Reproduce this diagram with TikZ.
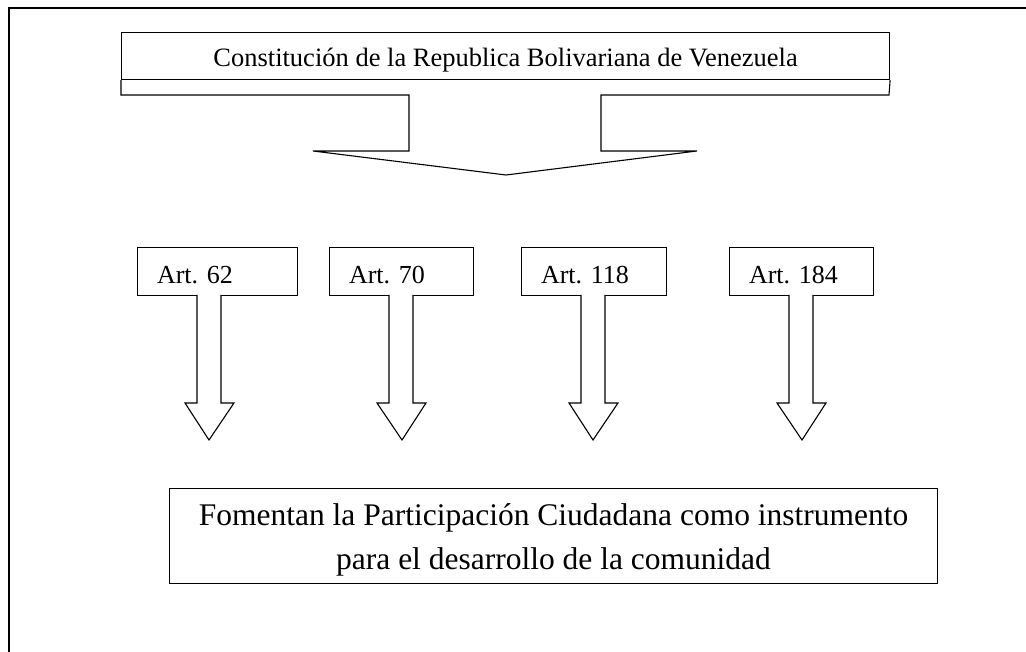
\documentclass[tikz,border=0pt]{standalone}
\usepackage{fontspec}
\setmainfont{Liberation Serif}
\frenchspacing
\begin{document}
\begin{tikzpicture}[x=1pt,y=-1pt,
  shapeline/.style={draw=black,line width=1.1pt,line join=miter},
  titlebox/.style={shapeline,rectangle,inner sep=0pt,anchor=north west,align=center,
    font=\fontsize{26.5}{30}\selectfont},
  artbox/.style={shapeline,rectangle,anchor=north west,inner xsep=19.5pt,inner ysep=0pt,
    text height=36pt,text depth=12pt,align=left,font=\fontsize{26}{30}\selectfont},
  blockarrow/.style={shapeline,fill=white}]
\useasboundingbox (0,0) rectangle (1026,652);
\clip (0,0) rectangle (1026,652);
\fill[white] (0,0) rectangle (1026,652);
% outer frame (cut at right and bottom)
\draw[line width=1.6pt] (9,670) -- (9,8) -- (1040,8);

% title box
\node[titlebox,minimum width=768pt,minimum height=47pt,text height=34pt,text depth=13pt]
  (const) at (121,32) {Constitución de la Republica Bolivariana de Venezuela};
% callout arrow below title
\draw[blockarrow] (const.south west) -- (121,95) -- (409,95) -- (409,151) -- (313,151)
  -- (506,175) -- (697,151) -- (601,151) -- (601,95) -- (889,95) -- (const.south east);

% article boxes
\node[artbox,minimum width=160pt,text width=121pt] (a62) at (137,247) {Art. 62};
\node[artbox,minimum width=144pt,text width=105pt] (a70) at (329,247) {Art. 70};
\node[artbox,minimum width=145pt,text width=106pt] (a118) at (521,247) {Art. 118};
\node[artbox,minimum width=144pt,text width=105pt] (a184) at (729,247) {Art. 184};

% block arrows below each article
\draw[blockarrow] (197,295) -- (197,403) -- (185,403) -- (209,440) -- (234,403) -- (221,403) -- (221,295);
\draw[blockarrow] (389,295) -- (389,403) -- (377,403) -- (402,440) -- (426,403) -- (413,403) -- (413,295);
\draw[blockarrow] (581,295) -- (581,403) -- (569,403) -- (593,440) -- (618,403) -- (605,403) -- (605,295);
\draw[blockarrow] (789,295) -- (789,403) -- (777,403) -- (802,440) -- (826,403) -- (813,403) -- (813,295);

% result box
\node[shapeline,rectangle,anchor=north west,inner sep=0pt,minimum width=768pt,minimum height=95pt,
  text height=81pt,text depth=14pt,
  align=center,font=\fontsize{31.5}{44}\selectfont]
  (fom) at (169,488) {Fomentan la Participación Ciudadana como instrumento\\para el desarrollo de la comunidad};
\end{tikzpicture}
\end{document}
